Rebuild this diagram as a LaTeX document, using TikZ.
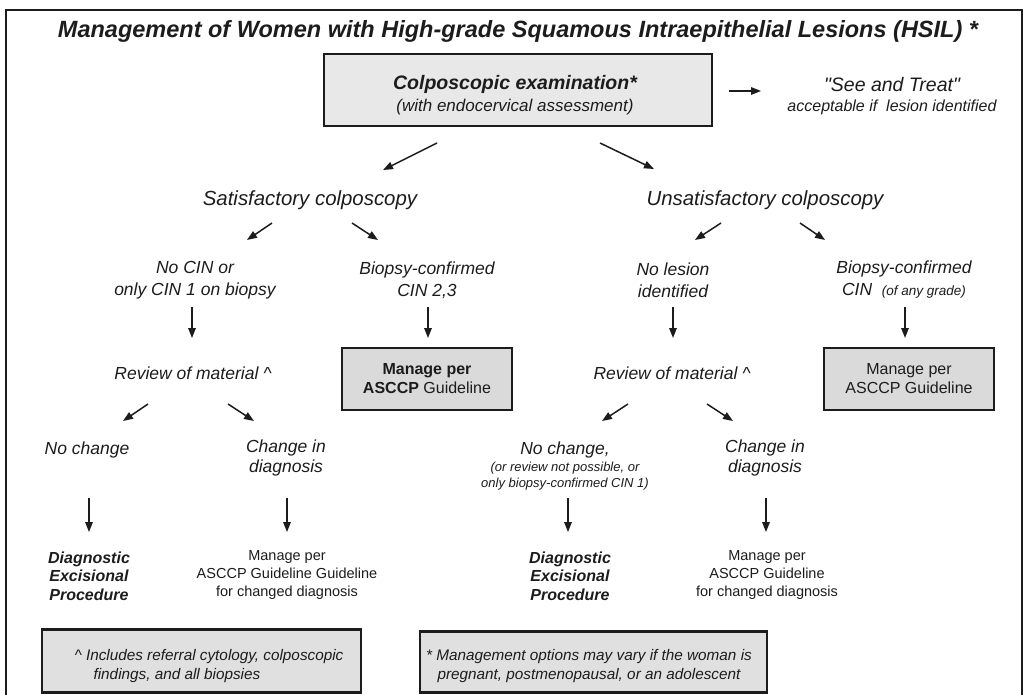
\documentclass[tikz,border=0pt]{standalone}
\usepackage{fontspec}
\setmainfont{Liberation Sans}
\newfontfamily\rawsans{Liberation Sans}
\usetikzlibrary{arrows.meta}
\definecolor{ink}{HTML}{1C1C1C}
\definecolor{boxtop}{HTML}{E8E8E8}
\definecolor{boxmg}{HTML}{DADADA}
\definecolor{boxnote}{HTML}{E0E0E0}
\newcommand\fsz[2]{\fontsize{#1}{#2}\selectfont}
\begin{document}
\begin{tikzpicture}[x=1pt,y=-1pt,
  every node/.style={inner sep=0pt, outer sep=0pt, text=ink, align=center},
  arr/.style={line width=1.5pt, draw=ink, -{Triangle[length=10pt,width=7.5pt]}},
  lvtwo/.style={font=\fsz{17.5}{22}\itshape},
  lvthree/.style={font=\fsz{17.5}{20}\itshape},
  dep/.style={font=\fsz{16}{18.5}\bfseries\itshape},
  mgsmall/.style={font=\fsz{14.5}{18.2}},
  mgbox/.style={draw=ink, line width=2.6pt, fill=boxmg, minimum width=170pt, minimum height=62pt, font=\fsz{16}{19}},
  notebox/.style={draw=ink, line width=2.4pt, fill=boxnote},
  notetxt/.style={font=\fsz{15.3}{19}\itshape}
]
\useasboundingbox (0,0) rectangle (1025,694);
\clip (0,0) rectangle (1025,694);

% outer frame, open at the bottom edge of the page
\draw[line width=2.5pt, draw=ink] (6,710) -- (6,10) -- (1022,10) -- (1022,710);

% title
\node[font=\fsz{23.5}{28}\bfseries\itshape, anchor=base] (title) at (518,37)
  {Management of Women with High-grade Squamous Intraepithelial Lesions (HSIL) *};

% colposcopic examination box
\node[draw=ink, line width=2.6pt, fill=boxtop, minimum width=388pt, minimum height=72pt] (exam) at (518,90) {};
\node[font=\fsz{17}{21.5}\itshape] (examtxt) at (515,95)
  {{\fsz{19.5}{21.5}\bfseries Colposcopic examination*}\\(with endocervical assessment)};

% see and treat
\node[font=\fsz{16}{20.5}\itshape] (seetreat) at (892,96)
  {{\rawsans\fsz{19.5}{20.5}\itshape "See and Treat"}\\acceptable if\ \ lesion identified};
\coordinate (st1) at (729,91);
\coordinate (st2) at (761,91);
\draw[arr] (st1) -- (st2);

% first split
\node[font=\fsz{20.4}{24}\itshape, anchor=base] (sat) at (310,205) {Satisfactory colposcopy};
\node[font=\fsz{20.4}{24}\itshape, anchor=base] (unsat) at (765,205) {Unsatisfactory colposcopy};
\coordinate (e1) at (437,143); \coordinate (s1) at (383,170);
\coordinate (e2) at (600,143); \coordinate (s2) at (654,169);
\draw[arr] (e1) -- (s1);
\draw[arr] (e2) -- (s2);

% second split
\coordinate (sa1) at (272,223); \coordinate (sa2) at (247,240);
\coordinate (sb1) at (352,223); \coordinate (sb2) at (378,240);
\coordinate (ua1) at (721,223); \coordinate (ua2) at (695,240);
\coordinate (ub1) at (800,223); \coordinate (ub2) at (825,240);
\draw[arr] (sa1) -- (sa2);
\draw[arr] (sb1) -- (sb2);
\draw[arr] (ua1) -- (ua2);
\draw[arr] (ub1) -- (ub2);

\node[lvtwo] (nocin) at (195,280) {No CIN or\\only CIN 1 on biopsy};
\node[lvtwo] (bcone) at (427,280) {Biopsy-confirmed\\CIN 2,3};
\node[lvtwo] (nolesion) at (673,280) {No lesion\\identified};
\node[lvtwo] (bctwo) at (904,280) {Biopsy-confirmed\\CIN\ \ {\fsz{13.5}{22}(of any grade)}};

% down to review / management
\coordinate (d1a) at (192,307); \coordinate (d1b) at (192,338);
\coordinate (d2a) at (428,307); \coordinate (d2b) at (428,338);
\coordinate (d3a) at (673,307); \coordinate (d3b) at (673,338);
\coordinate (d4a) at (905,307); \coordinate (d4b) at (905,338);
\draw[arr] (d1a) -- (d1b);
\draw[arr] (d2a) -- (d2b);
\draw[arr] (d3a) -- (d3b);
\draw[arr] (d4a) -- (d4b);

\node[mgbox] (mgl) at (427,379) {\textbf{Manage per}\\\textbf{ASCCP} Guideline};
\node[mgbox] (mgr) at (909,379) {Manage per\\ASCCP Guideline};

\node[font=\fsz{17.5}{20}\itshape, anchor=base] (revl) at (193,379) {Review of material \textasciicircum};
\node[font=\fsz{17.5}{20}\itshape, anchor=base] (revr) at (672,379) {Review of material \textasciicircum};

% third split
\coordinate (ra1) at (148,404); \coordinate (ra2) at (123,421);
\coordinate (rb1) at (228,404); \coordinate (rb2) at (254,421);
\coordinate (rc1) at (628,404); \coordinate (rc2) at (602,421);
\coordinate (rd1) at (707,404); \coordinate (rd2) at (733,421);
\draw[arr] (ra1) -- (ra2);
\draw[arr] (rb1) -- (rb2);
\draw[arr] (rc1) -- (rc2);
\draw[arr] (rd1) -- (rd2);

\node[font=\fsz{17.5}{20}\itshape, anchor=base] (nochl) at (87,454) {No change};
\node[lvthree] (chl) at (286,458) {Change in\\diagnosis};
\node[font=\fsz{13}{16.5}\itshape] (nochr) at (565,466)
  {{\fsz{17.5}{16.5}No change,}\\(or review not possible, or\\only biopsy-confirmed CIN 1)};
\node[lvthree] (chr) at (765,458) {Change in\\diagnosis};

% down to outcomes
\coordinate (f1a) at (89,498);  \coordinate (f1b) at (89,532);
\coordinate (f2a) at (287,498); \coordinate (f2b) at (287,532);
\coordinate (f3a) at (568,498); \coordinate (f3b) at (568,532);
\coordinate (f4a) at (766,498); \coordinate (f4b) at (766,532);
\draw[arr] (f1a) -- (f1b);
\draw[arr] (f2a) -- (f2b);
\draw[arr] (f3a) -- (f3b);
\draw[arr] (f4a) -- (f4b);

\node[dep] (depl) at (89,576) {Diagnostic\\Excisional\\Procedure};
\node[mgsmall] (mcl) at (287,575) {Manage per\\ASCCP Guideline Guideline\\for changed diagnosis};
\node[dep] (depr) at (570,576) {Diagnostic\\Excisional\\Procedure};
\node[mgsmall] (mcr) at (767,575) {Manage per\\ASCCP Guideline\\for changed diagnosis};

% footnotes
\node[notebox, minimum width=319pt, minimum height=63pt] (notel) at (201.5,661) {};
\node[notetxt, align=left] (noteltxt) at (209,666)
  {\textasciicircum{} Includes referral cytology, colposcopic\\\hspace*{19pt}findings, and all biopsies};
\node[notebox, minimum width=347pt, minimum height=61pt] (noter) at (593.5,662) {};
\node[notetxt] (notertxt) at (589,666)
  {* Management options may vary if the woman is\\pregnant, postmenopausal, or an adolescent};
\end{tikzpicture}
\end{document}
